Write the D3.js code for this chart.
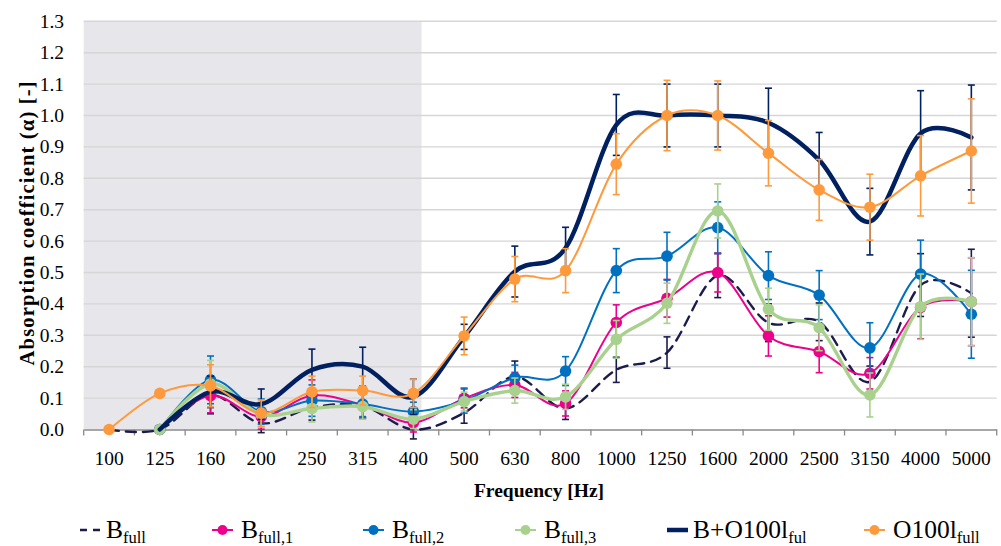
<!DOCTYPE html>
<html><head><meta charset="utf-8">
<script src="https://cdn.jsdelivr.net/npm/d3@7"></script>
<style>
body{margin:0;background:#fff;}
svg text{font-family:"Liberation Serif","Times New Roman",serif;fill:#000;}
</style></head><body>
<svg id="c" width="1001" height="546"></svg>
<script>
const categories = ["100","125","160","200","250","315","400","500","630","800","1000","1250","1600","2000","2500","3150","4000","5000"];
const yTicks = [0,0.1,0.2,0.3,0.4,0.5,0.6,0.7,0.8,0.9,1.0,1.1,1.2,1.3];

const bFull  = [0, 0, 0.11, 0.02, 0.07, 0.075, 0.0, 0.053, 0.168, 0.067, 0.19, 0.245, 0.49, 0.34, 0.343, 0.152, 0.46, 0.434];
const bFull1 = [null, 0, 0.108, 0.041, 0.108, 0.078, 0.022, 0.099, 0.142, 0.083, 0.341, 0.418, 0.5, 0.298, 0.248, 0.179, 0.389, 0.407];
const bFull2 = [null, 0, 0.158, 0.057, 0.092, 0.081, 0.057, 0.092, 0.165, 0.186, 0.506, 0.552, 0.643, 0.49, 0.428, 0.26, 0.495, 0.367];
const bFull3 = [null, 0, 0.145, 0.048, 0.067, 0.073, 0.033, 0.089, 0.124, 0.104, 0.287, 0.402, 0.696, 0.383, 0.324, 0.11, 0.391, 0.407];
const bO100  = [null, 0, 0.12, 0.081, 0.19, 0.2, 0.104, 0.295, 0.503, 0.578, 0.97, 1.0, 1.0, 0.977, 0.858, 0.662, 0.943, 0.93];
const o100   = [0, 0.115, 0.139, 0.052, 0.12, 0.124, 0.115, 0.298, 0.479, 0.506, 0.845, 1.0, 1.0, 0.88, 0.763, 0.708, 0.808, 0.887];

const errBFull  = [0, 0, 0.06, 0.03, 0.04, 0.04, 0.03, 0.033, 0.05, 0.035, 0.04, 0.05, 0.07, 0.06, 0.06, 0.05, 0.1, 0.14];
const errBFull1 = [0, 0, 0.055, 0.04, 0.05, 0.04, 0.03, 0.03, 0.04, 0.04, 0.056, 0.06, 0.062, 0.064, 0.067, 0.05, 0.1, 0.14];
const errBFull2 = [0, 0, 0.076, 0.04, 0.05, 0.04, 0.03, 0.04, 0.04, 0.046, 0.07, 0.076, 0.082, 0.076, 0.078, 0.08, 0.108, 0.14];
const errBFull3 = [0, 0, 0.075, 0.04, 0.043, 0.04, 0.03, 0.03, 0.04, 0.04, 0.06, 0.064, 0.086, 0.067, 0.073, 0.07, 0.104, 0.14];
const errBO100  = [0, 0, 0.05, 0.048, 0.066, 0.062, 0.056, 0.04, 0.081, 0.066, 0.097, 0.1, 0.1, 0.11, 0.088, 0.106, 0.136, 0.167];
const errO100   = [0, 0, 0.067, 0.042, 0.05, 0.046, 0.045, 0.06, 0.072, 0.07, 0.097, 0.112, 0.11, 0.104, 0.097, 0.105, 0.128, 0.166];

const series = [
  {name:"B", sub:"full", values:bFull, err:errBFull, color:"#1c1c4c", width:2.4, dash:"10,7", marker:false},
  {name:"B", sub:"full,1", values:bFull1, err:errBFull1, color:"#EC008C", width:2, dash:null, marker:true},
  {name:"B", sub:"full,2", values:bFull2, err:errBFull2, color:"#0070C0", width:2, dash:null, marker:true},
  {name:"B", sub:"full,3", values:bFull3, err:errBFull3, color:"#A9D18E", width:3.4, dash:null, marker:true},
  {name:"B+O100l", sub:"ful", values:bO100, err:errBO100, color:"#002060", width:4.5, dash:null, marker:false},
  {name:"O100l", sub:"full", values:o100, err:errO100, color:"#FF9A3C", width:2, dash:null, marker:true}
];

const svg = d3.select("#c");
const L = 83.7, R = 996.7, T = 21.3, B = 429.5;
const x = d3.scaleBand().domain(categories).range([L, R]).padding(0);
const y = d3.scaleLinear().domain([0, 1.3]).range([B, T]);
const cx = c => x(c) + x.bandwidth()/2;

// shaded low-frequency region
svg.append("rect").attr("x", L).attr("y", T)
  .attr("width", cx("400") + x.bandwidth()*0.16 - L).attr("height", B - T)
  .attr("fill", "#e6e6eb");

// gridlines
svg.append("g").selectAll("line").data(yTicks.slice(1)).join("line")
  .attr("x1", L).attr("x2", R).attr("y1", d => y(d)).attr("y2", d => y(d))
  .attr("stroke", "#d6d6d6").attr("stroke-width", 1.4);

// y tick labels
svg.append("g").selectAll("text").data(yTicks).join("text")
  .attr("x", 64).attr("y", d => y(d)).attr("text-anchor", "end")
  .attr("dominant-baseline", "central").attr("font-size", 19.5)
  .text(d => d.toFixed(1));

// x axis
const xAxis = d3.axisBottom(x).tickSize(0).tickFormat(d => d);
const gx = svg.append("g").attr("transform", `translate(0,${B})`).call(xAxis);
gx.select(".domain").attr("stroke", "#8a8a8a").attr("stroke-width", 1.3);
gx.selectAll(".tick text").attr("font-size", 19.5).attr("dy", null).attr("y", 35)
  .style("font-family", '"Liberation Serif",serif').attr("fill", "#000");
const bounds = categories.map(c => x(c)).concat([R]);
svg.append("g").selectAll("line").data(bounds).join("line")
  .attr("x1", d => d).attr("x2", d => d).attr("y1", B).attr("y2", B + 6)
  .attr("stroke", "#8a8a8a").attr("stroke-width", 1.3);

// axis titles
svg.append("text").attr("x", 539).attr("y", 497).attr("text-anchor", "middle")
  .attr("font-size", 19.5).attr("font-weight", "bold").text("Frequency [Hz]");
svg.append("text").attr("transform", `translate(27,${(T+B)/2 - 2}) rotate(-90)`)
  .attr("text-anchor", "middle").attr("dominant-baseline", "central")
  .attr("font-size", 20.5).attr("font-weight", "bold")
  .attr("textLength", 284).attr("lengthAdjust", "spacing")
  .text("Absorption coefficient (α)  [-]");

// series
const line = d3.line().defined(d => d.v !== null)
  .x(d => cx(d.c)).y(d => y(d.v)).curve(d3.curveCardinal.tension(0));

series.forEach(s => {
  const pts = categories.map((c, i) => ({c, v: s.values[i], e: s.err[i]}));
  const g = svg.append("g");
  const eb = pts.filter(p => p.v !== null && p.e > 0);
  g.selectAll(".eb").data(eb).join("line")
    .attr("x1", p => cx(p.c)).attr("x2", p => cx(p.c))
    .attr("y1", p => y(p.v - p.e)).attr("y2", p => y(p.v + p.e))
    .attr("stroke", s.color).attr("stroke-width", 1.6);
  [1, -1].forEach(sign => {
    g.selectAll(".cap" + sign).data(eb).join("line")
      .attr("x1", p => cx(p.c) - 3.5).attr("x2", p => cx(p.c) + 3.5)
      .attr("y1", p => y(p.v + sign * p.e)).attr("y2", p => y(p.v + sign * p.e))
      .attr("stroke", s.color).attr("stroke-width", 1.6);
  });
  g.append("path").datum(pts).attr("d", line).attr("fill", "none")
    .attr("stroke", s.color).attr("stroke-width", s.width)
    .attr("stroke-dasharray", s.dash).attr("stroke-linecap", "round");
  if (s.marker) {
    g.selectAll("circle").data(pts.filter(p => p.v !== null)).join("circle")
      .attr("cx", p => cx(p.c)).attr("cy", p => y(p.v)).attr("r", 5.8)
      .attr("fill", s.color);
  }
});

// legend
const legX = [80, 212, 363, 515, 667, 864];
const lg = svg.append("g");
series.forEach((s, i) => {
  const x0 = legX[i];
  const yL = 530;
  if (s.dash) {
    lg.append("line").attr("x1", x0).attr("x2", x0 + 20).attr("y1", yL).attr("y2", yL)
      .attr("stroke", s.color).attr("stroke-width", 2.4).attr("stroke-dasharray", "7,6");
  } else {
    lg.append("line").attr("x1", x0).attr("x2", x0 + 21).attr("y1", yL).attr("y2", yL)
      .attr("stroke", s.color).attr("stroke-width", s.marker ? 2 : 4.5);
  }
  if (s.marker) lg.append("circle").attr("cx", x0 + 10.5).attr("cy", yL).attr("r", 5).attr("fill", s.color);
  const t = lg.append("text").attr("x", x0 + (s.marker ? 29 : 26)).attr("y", 538).attr("font-size", 25.5);
  t.append("tspan").text(s.name);
  t.append("tspan").attr("font-size", 16.5).attr("dy", 5).text(s.sub);
});
</script>
</body></html>
